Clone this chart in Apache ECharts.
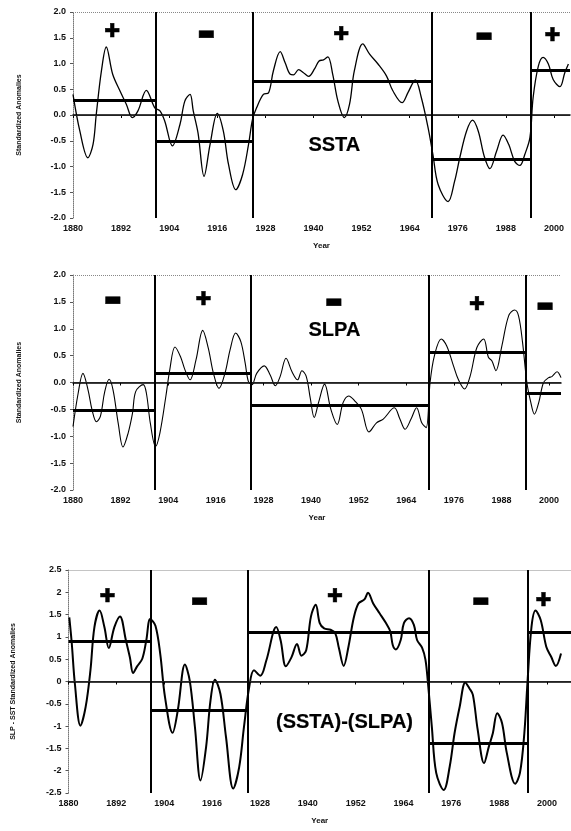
<!DOCTYPE html>
<html>
<head>
<meta charset="utf-8">
<script src="https://cdn.jsdelivr.net/npm/echarts@6/dist/echarts.min.js"></script>
<style>
  html, body { margin: 0; padding: 0; background: #fff; }
  #chart { width: 571px; height: 831px; }
</style>
</head>
<body>
<div id="chart"></div>
<script>
// 横轴刻度
const xTicks = [1880, 1892, 1904, 1916, 1928, 1940, 1952, 1964, 1976, 1988, 2000];

// SSTA 曲线
const years1 = [1880, 1881.7, 1883.7, 1885, 1885.8, 1887.1, 1888.3, 1889.9, 1891.7, 1893.3, 1894.8, 1896.2, 1898.3, 1900.4, 1901.7, 1902.9, 1904.8, 1906.7, 1907.9, 1909.2, 1910, 1911.2, 1912.7, 1914.2, 1916, 1917.5, 1918.8, 1920.6, 1922.3, 1923.8, 1924.8, 1925.8, 1927.5, 1928.8, 1930, 1931.7, 1932.9, 1934.2, 1935, 1936.3, 1937.5, 1938.8, 1940.3, 1941.4, 1942.5, 1943.6, 1944.8, 1946.1, 1947.7, 1949, 1950.2, 1952.3, 1954, 1956.1, 1958.2, 1959.8, 1962.1, 1963.6, 1965.4, 1966.9, 1968.6, 1969.8, 1971.1, 1973.6, 1975.2, 1976.5, 1978.2, 1979.7, 1981.1, 1982.6, 1984, 1985.7, 1987.3, 1988.7, 1990.2, 1991.5, 1992.7, 1994, 1994.8, 1996.1, 1997.3, 1998.6, 1999.8, 2001.5, 2002.7, 2003.6];
const ssta = [0.40, -0.31, -0.83, -0.57, 0.01, 0.86, 1.32, 0.79, 0.47, 0.21, -0.05, 0.08, 0.48, 0.14, 0.08, -0.12, -0.60, -0.18, 0.27, 0.40, 0.08, -0.35, -1.19, -0.57, 0.03, -0.31, -0.96, -1.45, -1.16, -0.57, -0.08, 0.14, 0.40, 0.43, 0.86, 1.23, 1.02, 0.79, 0.78, 0.88, 0.82, 0.75, 0.90, 1.05, 1.07, 1.13, 0.79, 0.27, -0.05, 0.21, 0.86, 1.38, 1.18, 0.99, 0.76, 0.47, 0.24, 0.44, 0.68, 0.34, -0.25, -0.77, -1.35, -1.68, -1.29, -0.83, -0.31, -0.10, -0.31, -0.80, -1.04, -0.70, -0.39, -0.57, -0.90, -0.98, -0.77, -0.44, 0.34, 0.95, 1.12, 0.99, 0.69, 0.55, 0.82, 0.99];

// SLPA 曲线
const years2 = [1880, 1881.3, 1882.5, 1883.8, 1884.8, 1885.9, 1886.9, 1888, 1889.1, 1890.1, 1891.4, 1892.6, 1893.9, 1895, 1895.8, 1897.7, 1898.5, 1899.5, 1900.8, 1901.9, 1903.4, 1904.4, 1905.7, 1907.1, 1908.2, 1909.5, 1911, 1912.7, 1914.1, 1915.4, 1916.8, 1918.3, 1919.6, 1921, 1922.3, 1923.4, 1924.2, 1925.1, 1926.3, 1928.2, 1929.7, 1931, 1932.2, 1933.7, 1935.2, 1936.6, 1937.7, 1938.8, 1939.8, 1940.8, 1941.9, 1943.4, 1945, 1946.6, 1948.1, 1949.5, 1951, 1952.7, 1954.6, 1956.5, 1958.2, 1961, 1962.4, 1963.7, 1965.2, 1966.6, 1967.9, 1969, 1970, 1971.1, 1972.8, 1974.2, 1975.9, 1977.1, 1978.7, 1980.1, 1981.8, 1983.5, 1984.7, 1985.6, 1986.6, 1988.1, 1989.8, 1991.3, 1992.3, 1993.3, 1994.4, 1995.3, 1996.3, 1997.4, 1998.6, 1999.9, 2000.7, 2002, 2003];
const slpa = [-0.82, -0.20, 0.17, -0.14, -0.51, -0.73, -0.63, -0.17, 0.06, -0.14, -0.76, -1.20, -0.94, -0.57, -0.17, -0.04, -0.20, -0.76, -1.19, -0.94, -0.26, 0.24, 0.66, 0.48, 0.24, 0.05, 0.42, 0.97, 0.64, 0.17, -0.11, 0.17, 0.61, 0.92, 0.76, 0.36, 0.02, -0.04, 0.17, 0.31, 0.14, -0.06, 0.11, 0.45, 0.20, 0.05, 0.22, 0.11, -0.29, -0.65, -0.37, -0.03, -0.50, -0.78, -0.37, -0.25, -0.34, -0.50, -0.92, -0.75, -0.68, -0.47, -0.68, -0.87, -0.68, -0.47, -0.75, -0.84, 0.00, 0.50, 0.81, 0.68, 0.31, 0.06, -0.12, 0.12, 0.65, 0.81, 0.47, 0.40, 0.22, 0.68, 1.24, 1.35, 1.24, 0.75, 0.00, -0.34, -0.59, -0.37, 0.00, 0.09, 0.11, 0.20, 0.09];

// (SSTA)-(SLPA) 曲线
const years3 = [1880.2, 1880.8, 1881.6, 1883, 1884.3, 1885.5, 1886.5, 1887.8, 1889, 1890.1, 1891.5, 1892.9, 1894.4, 1895.4, 1896.2, 1897.2, 1898.5, 1899.5, 1900.5, 1901.8, 1903, 1904.2, 1906.1, 1907.4, 1909.2, 1910.4, 1911.7, 1913.1, 1914.5, 1915.6, 1916.7, 1918.1, 1919.5, 1921.3, 1922.8, 1924, 1925.3, 1926.5, 1928.1, 1929.6, 1932.1, 1933.2, 1934.5, 1935.9, 1937.3, 1938.4, 1939.6, 1940.8, 1942, 1943, 1944.1, 1945.7, 1946.9, 1947.8, 1949, 1950.2, 1951.5, 1952.7, 1954.2, 1955.1, 1956.4, 1958, 1959.6, 1960.7, 1961.3, 1962.1, 1963.3, 1964.1, 1965.4, 1966.6, 1967.4, 1968.7, 1969.5, 1970.1, 1971.1, 1972.2, 1974.1, 1975.6, 1976.8, 1978.1, 1979.5, 1980.5, 1981.4, 1982.6, 1984.2, 1985.4, 1986.4, 1987.5, 1988.7, 1989.9, 1992, 1993.2, 1994.3, 1995.1, 1996.1, 1997.1, 1998.4, 1999.8, 2001, 2002.2, 2003.5];
const diff = [1.44, 0.88, -0.05, -0.99, -0.57, 0.25, 1.22, 1.59, 1.22, 0.75, 1.22, 1.46, 0.92, 0.54, 0.19, 0.34, 0.51, 0.92, 1.40, 1.25, 0.62, -0.35, -1.15, -0.65, 0.38, 0.02, -1.02, -2.22, -1.47, -0.43, 0.04, -0.28, -1.25, -2.40, -1.92, -1.02, -0.13, 0.25, 0.13, 0.47, 1.22, 0.92, 0.34, 0.54, 0.84, 0.58, 0.70, 1.46, 1.72, 1.31, 1.19, 1.16, 1.08, 0.75, 0.35, 0.78, 1.42, 1.75, 1.84, 1.99, 1.75, 1.53, 1.31, 1.12, 0.82, 0.72, 0.93, 1.31, 1.42, 1.27, 0.93, 0.75, 0.49, 0.00, -1.01, -2.05, -2.43, -1.90, -1.16, -0.56, -0.02, -0.15, -0.30, -1.08, -1.83, -1.46, -1.16, -0.71, -0.93, -1.60, -2.29, -2.05, -1.16, 0.00, 1.23, 1.59, 1.38, 0.78, 0.56, 0.35, 0.63];

// 分段年份和各段均值
const breaks1 = [1880, 1900.6, 1924.8, 1969.6, 1994.2, 2004];
const means1 = [0.28, -0.51, 0.65, -0.86, 0.86];
const breaks2 = [1880, 1900.6, 1924.7, 1969.6, 1994.1, 2003];
const means2 = [-0.51, 0.17, -0.43, 0.57, -0.20];
const breaks3 = [1880, 1900.6, 1925, 1970.3, 1995.1, 2006];
const means3 = [0.90, -0.65, 1.11, -1.38, 1.10];

// 符号标注 (+ / -)
const signs1 = ['✚', '▬', '✚', '▬', '✚'];
const signX1 = [1889.8, 1913.3, 1946.9, 1982.6, 1999.6];
const signY1 = [1.62, 1.58, 1.55, 1.53, 1.53];
const signs2 = ['▬', '✚', '▬', '✚', '▬'];
const signX2 = [1890.1, 1912.9, 1945.8, 1981.8, 1999];
const signY2 = [1.54, 1.54, 1.49, 1.45, 1.42];
const signs3 = ['✚', '▬', '✚', '▬', '✚'];
const signX3 = [1889.8, 1912.9, 1946.8, 1983.4, 1999.1];
const signY3 = [1.89, 1.81, 1.89, 1.81, 1.81];

const titles = ['SSTA', 'SLPA', '(SSTA)-(SLPA)'];
const titleX = [1945.2, 1945.9, 1949.2];
const titleY = [-0.6, 0.96, -0.93];

const yNames = ['Standardized Anomalies', 'Standardized Anomalies', 'SLP - SST Standardized Anomalies'];

const panels = [
    {years: years1, vals: ssta, breaks: breaks1, means: means1, signs: signs1, sx: signX1, sy: signY1,
     grid: {left: 73, top: 12, width: 497, height: 206}, xMax: 2004, yMin: -2, yMax: 2, lw: 1.3, dec: true, nameGap: 50},
    {years: years2, vals: slpa, breaks: breaks2, means: means2, signs: signs2, sx: signX2, sy: signY2,
     grid: {left: 73, top: 275, width: 488, height: 215}, xMax: 2003, yMin: -2, yMax: 2, lw: 1.1, dec: true, nameGap: 50},
    {years: years3, vals: diff, breaks: breaks3, means: means3, signs: signs3, sx: signX3, sy: signY3,
     grid: {left: 68.5, top: 570, width: 513, height: 223}, xMax: 2006, yMin: -2.5, yMax: 2.5, lw: 2, dec: false, nameGap: 52}
];

const fontFam = 'Liberation Sans, Arial, sans-serif';
const clear = 'rgba(0,0,0,0)';

let grids = [];
let xAxes = [];
let yAxes = [];
let series = [];

for (let i = 0; i < panels.length; i++) {
    let p = panels[i];
    grids.push(p.grid);
    xAxes.push({
        type: 'value', gridIndex: i, min: 1880, max: p.xMax, interval: 12,
        name: 'Year', nameLocation: 'middle', nameGap: 24,
        nameTextStyle: {fontFamily: fontFam, fontSize: 8, fontWeight: 'bold', color: '#111'},
        axisLine: {lineStyle: {color: '#000', width: 1.5}},
        axisTick: {show: true, length: 3, lineStyle: {color: '#000'}},
        axisLabel: {
            fontFamily: fontFam, fontSize: 9, fontWeight: 'bold', color: '#111', margin: 6,
            showMaxLabel: false,
            formatter: function (v) { return xTicks.indexOf(v) >= 0 ? String(v) : ''; }
        },
        splitLine: {show: false}
    });
    yAxes.push({
        type: 'value', gridIndex: i, min: p.yMin, max: p.yMax, interval: 0.5,
        name: yNames[i], nameLocation: 'middle', nameGap: p.nameGap, nameRotate: 90,
        nameTextStyle: {fontFamily: fontFam, fontSize: 7, fontWeight: 'bold', color: '#111'},
        axisLine: {show: true, lineStyle: {color: '#777', type: 'dotted', width: 1}},
        axisTick: {show: true, length: 3, lineStyle: {color: '#555'}},
        axisLabel: {
            fontFamily: fontFam, fontSize: 9, fontWeight: 'bold', color: '#111', margin: 7,
            formatter: function (v) { return p.dec ? v.toFixed(1) : String(v); }
        },
        splitLine: {show: false}
    });

    // 零线、顶边、分界线、均值线
    let ml = [];
    ml.push({yAxis: 0, lineStyle: {color: '#222', width: 1, type: 'solid'}});
    ml.push({yAxis: p.yMax, lineStyle: {color: '#888', width: 1, type: 'dotted'}});
    for (let k = 1; k < p.breaks.length - 1; k++) {
        ml.push({xAxis: p.breaks[k], lineStyle: {color: '#000', width: 2, type: 'solid'}});
    }
    for (let k = 0; k < p.means.length; k++) {
        ml.push([
            {coord: [p.breaks[k], p.means[k]], lineStyle: {color: '#000', width: 3, type: 'solid'}},
            {coord: [p.breaks[k + 1], p.means[k]]}
        ]);
    }

    series.push({
        type: 'line', xAxisIndex: i, yAxisIndex: i,
        data: p.years.map(function (y, j) { return [y, p.vals[j]]; }),
        smooth: 0.35, showSymbol: false, symbol: 'none',
        lineStyle: {color: '#000', width: p.lw},
        markLine: {silent: true, symbol: ['none', 'none'], label: {show: false}, animation: false, data: ml},
        z: 3
    });

    // 符号
    series.push({
        type: 'scatter', xAxisIndex: i, yAxisIndex: i, symbolSize: 2,
        itemStyle: {color: clear},
        data: p.signs.map(function (s, j) { return {value: [p.sx[j], p.sy[j]], name: s}; }),
        label: {
            show: true, position: 'inside', color: '#000', opacity: 1,
            formatter: function (d) { return d.name; },
            fontFamily: 'DejaVu Sans, sans-serif', fontWeight: 'bold', fontSize: 19,
            textBorderColor: '#000', textBorderWidth: 0.5
        },
        z: 5
    });

    // 标题
    series.push({
        type: 'scatter', xAxisIndex: i, yAxisIndex: i, symbolSize: 2,
        itemStyle: {color: clear},
        data: [{value: [titleX[i], titleY[i]], name: titles[i]}],
        label: {
            show: true, position: 'inside', color: '#000', opacity: 1,
            formatter: function (d) { return d.name; },
            fontFamily: fontFam, fontWeight: 'bold', fontSize: 20,
            textBorderColor: '#000', textBorderWidth: 0.2
        },
        z: 5
    });
}

let myChart = echarts.init(document.getElementById('chart'), null, {renderer: 'canvas'});
myChart.setOption({
    backgroundColor: '#fff',
    animation: false,
    grid: grids,
    xAxis: xAxes,
    yAxis: yAxes,
    series: series
});
</script>
</body>
</html>
